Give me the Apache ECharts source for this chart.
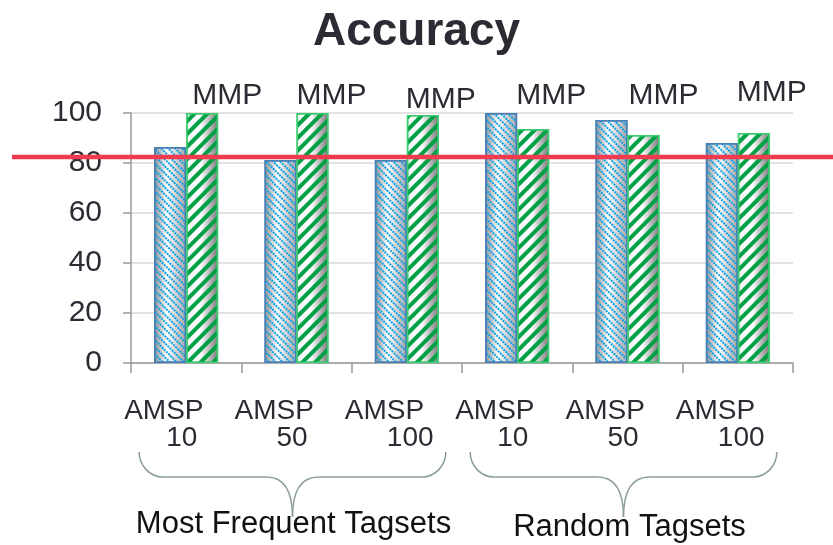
<!DOCTYPE html>
<html><head><meta charset="utf-8">
<script src="https://cdn.jsdelivr.net/npm/echarts@6/dist/echarts.min.js"></script>
<style>html,body{margin:0;padding:0;background:#fff}#c{width:833px;height:545px}</style>
</head><body><div id="c"></div>
<script>
// ---- data ----
const categories = ['AMSP\n10', 'AMSP\n50', 'AMSP\n100', 'AMSP\n10', 'AMSP\n50', 'AMSP\n100'];
const amspValues = [86.4, 81.2, 81.2, 100, 97.2, 88];
const mmpValues = [100, 100, 99.2, 93.6, 91.2, 92];
const seriesNames = ['AMSP', 'MMP'];
const groups = ['Most Frequent Tagsets', 'Random Tagsets'];
const groupSize = 3;
const threshold = 82.4;
const yMin = 0, yMax = 100, yInterval = 20;
const titleText = 'Accuracy';

// ---- style ----
const FONT = "'Liberation Sans', Arial, sans-serif";
const TEXT = '#2b2b33';
const mmpLabelOffsets = [[41, -17], [35, -17], [34, -13], [34, -17], [36, -17], [34, -20]];
const groupLabelShift = [[1, 524], [6, 527]];

const chart = echarts.init(document.getElementById('c'), null, {renderer: 'canvas'});

const grad = (stops) => ({type: 'linear', x: 0, y: 0, x2: 1, y2: 0,
  colorStops: stops.map(s => ({offset: s[0], color: s[1]}))});

chart.setOption({
  animation: false,
  title: {text: titleText, left: 'center', top: 4,
    textStyle: {fontFamily: FONT, fontSize: 46, fontWeight: 'bold', color: TEXT}},
  grid: {left: 131, right: 40, top: 113, bottom: 182, containLabel: false},
  xAxis: {
    type: 'category', data: categories,
    axisLine: {lineStyle: {color: '#9a9a9a', width: 1.5}},
    axisTick: {show: true, length: 10, lineStyle: {color: '#9a9a9a', width: 1.5}},
    axisLabel: {
      margin: 35, interval: 0,
      formatter: v => { const p = v.split('\n'); return '{a|' + p[0] + '}\n{n|' + p[1] + '}'; },
      rich: {
        a: {fontFamily: FONT, fontSize: 28, color: TEXT, width: 124, align: 'left', lineHeight: 27},
        n: {fontFamily: FONT, fontSize: 28, color: TEXT, align: 'left', lineHeight: 27, padding: [0, 0, 0, 42]}
      }
    }
  },
  yAxis: {
    type: 'value', min: yMin, max: yMax, interval: yInterval,
    axisLine: {show: true, lineStyle: {color: '#9a9a9a', width: 1.5}},
    axisTick: {show: true, inside: false, length: 8, lineStyle: {color: '#9a9a9a', width: 1.5}},
    axisLabel: {margin: 29, fontFamily: FONT, fontSize: 30, color: TEXT},
    splitLine: {lineStyle: {color: '#d9d9d9', width: 1.5}}
  },
  series: [
    {
      name: seriesNames[0], type: 'bar', data: amspValues, barWidth: 32, barGap: '0%',
      itemStyle: {
        color: grad([[0, '#8e8e8e'], [0.4, '#ffffff'], [1, '#a4a4a4']]),
        borderColor: '#4a7fb5', borderWidth: 1.5,
        decal: {symbol: 'rect', symbolSize: 1, dashArrayX: [2, 1], dashArrayY: [2, 3],
          rotation: Math.PI / 4, color: '#0aa0e6'}
      }
    },
    {
      name: seriesNames[1], type: 'bar', data: mmpValues, barWidth: 32,
      itemStyle: {
        color: grad([[0, '#f4f4f4'], [0.45, '#ffffff'], [1, '#787878']]),
        borderColor: '#3ccc70', borderWidth: 1.5,
        decal: {symbol: 'rect', symbolSize: 1, dashArrayX: [1, 0], dashArrayY: [3.5, 4.5],
          rotation: -Math.PI / 4, color: '#00a046'}
      }
    },
    {
      type: 'scatter', silent: true, symbolSize: 0, z: 5,
      itemStyle: {opacity: 1},
      data: categories.map((c, i) => ({
        value: [i, yMax],
        label: {offset: mmpLabelOffsets[i]}
      })),
      label: {show: true, position: 'inside', formatter: () => seriesNames[1], opacity: 1,
        fontFamily: FONT, fontSize: 30, color: TEXT, textBorderWidth: 0}
    }
  ]
});

// decorations anchored to axes
const xp = i => chart.convertToPixel({xAxisIndex: 0}, i);
const redY = chart.convertToPixel({yAxisIndex: 0}, threshold);
const graphics = [];
const braceStyle = {fill: null, stroke: '#8a9e94', lineWidth: 1.5};
groups.forEach((g, gi) => {
  const left = xp(gi * groupSize) - 47;
  const right = xp(gi * groupSize + groupSize - 1) + 39;
  const tip = (left + right) / 2;
  const yTop = 452, yH = 477, yTip = 517;
  const curve = (x1, y1, x2, y2, cx1, cy1, cx2, cy2) => graphics.push({type: 'bezierCurve', silent: true,
    shape: {x1, y1, x2, y2, cpx1: cx1, cpy1: cy1, cpx2: cx2, cpy2: cy2}, style: braceStyle});
  const line = (x1, y1, x2, y2) => graphics.push({type: 'line', silent: true,
    shape: {x1, y1, x2, y2}, style: braceStyle});
  curve(left, yTop, left + 24, yH, left, yH - 12, left + 10, yH);
  line(left + 24, yH, tip - 26, yH);
  curve(tip - 26, yH, tip, yTip, tip - 8, yH, tip, yH + 14);
  curve(tip, yTip, tip + 26, yH, tip, yH + 14, tip + 8, yH);
  line(tip + 26, yH, right - 24, yH);
  curve(right - 24, yH, right, yTop, right - 10, yH, right, yH - 12);
  graphics.push({type: 'text', x: tip + groupLabelShift[gi][0], y: groupLabelShift[gi][1], silent: true,
    style: {text: g, fontFamily: FONT, fontSize: 31, fill: '#111', align: 'center', verticalAlign: 'middle'}});
});
graphics.push({type: 'line', z: 100, silent: true,
  shape: {x1: 12, y1: redY, x2: 833, y2: redY},
  style: {stroke: '#f03a4e', lineWidth: 4.5}});
chart.setOption({graphic: graphics});
</script></body></html>
